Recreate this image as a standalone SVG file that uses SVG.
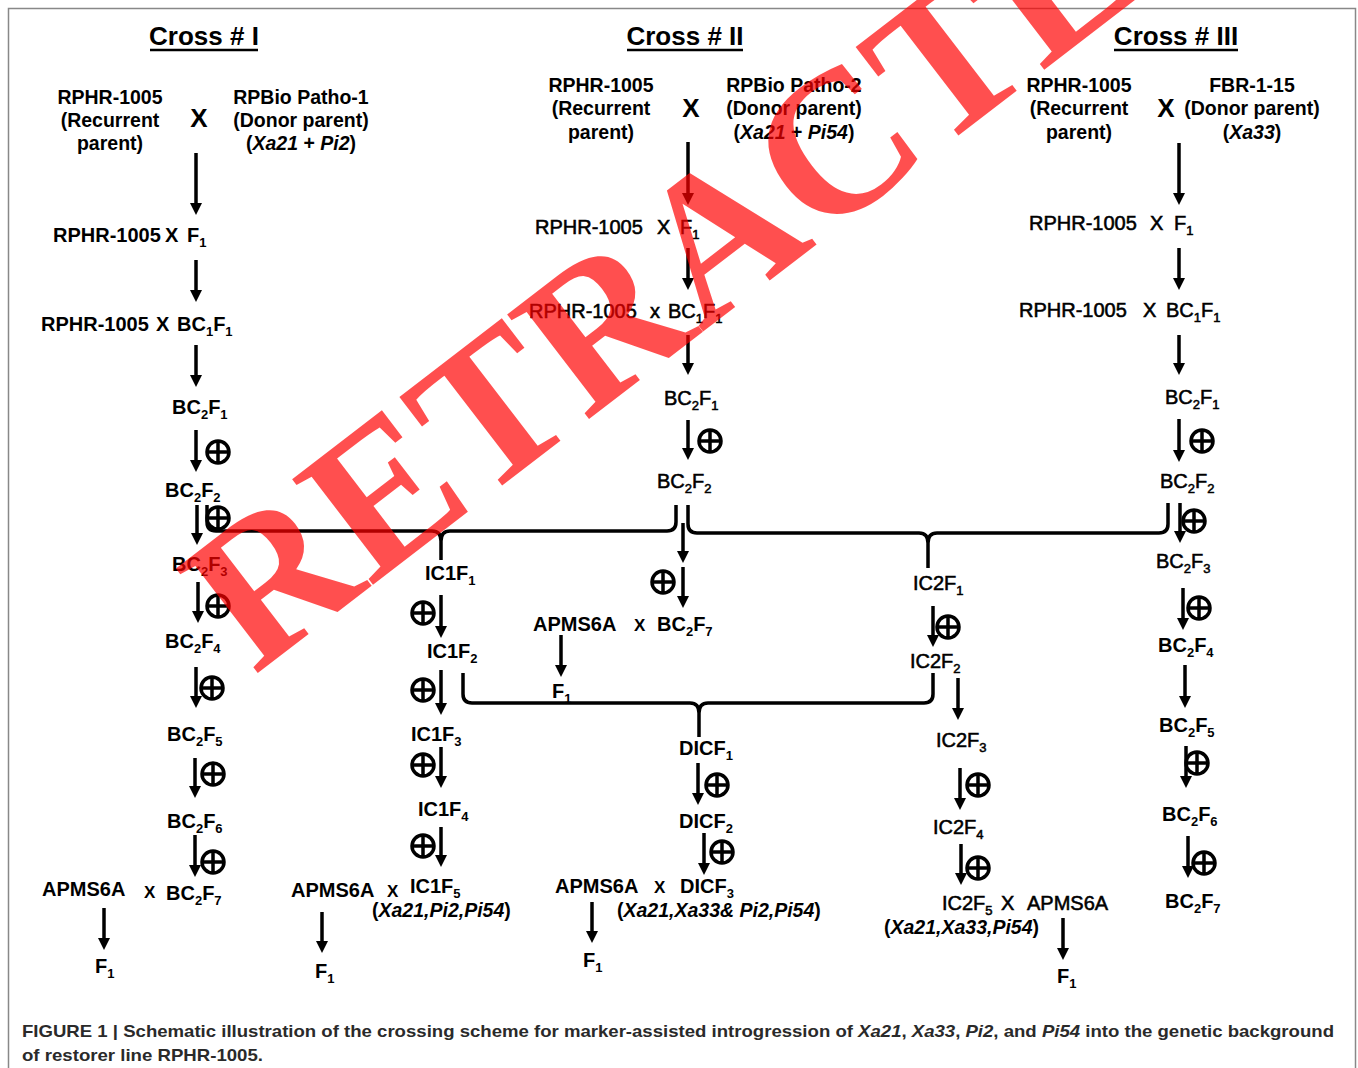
<svg xmlns="http://www.w3.org/2000/svg" xmlns:xlink="http://www.w3.org/1999/xlink" width="1358" height="1068" viewBox="0 0 1358 1068">
<style>
.t{font-family:"Liberation Sans",Arial,sans-serif;font-size:20px;font-weight:bold;fill:#000}
.p{font-size:19.5px}
.n{font-weight:normal;stroke:#000;stroke-width:0.55}
.sb{font-size:13px}
.it{font-style:italic}
.ttl{font-size:26px}
.sx{font-size:17px}
.arr{stroke:#000;stroke-width:3.5;fill:none;marker-end:url(#ah)}
.br{stroke:#000;stroke-width:3.5;fill:none;stroke-linejoin:round}
.ul{stroke:#000;stroke-width:2.5}
.cap{font-family:"Liberation Sans",Arial,sans-serif;font-size:17px;font-weight:bold;fill:#2a2a2a}
</style>
<defs>
<marker id="ah" markerUnits="userSpaceOnUse" markerWidth="14" markerHeight="14" viewBox="0 0 14 14" refX="2" refY="7" orient="auto"><path d="M0 1 L12 7 L0 13 Z" fill="#000"/></marker>
<g id="ox"><circle r="11" fill="none" stroke="#000" stroke-width="3.5"/><path d="M-11 0H11M0 -11V11" stroke="#000" stroke-width="3.5"/></g>
</defs>
<rect x="8.5" y="8.5" width="1347" height="1100" fill="#fff" stroke="#888" stroke-width="1.5"/>

<g id="titles">
<text class="t ttl" x="204" y="45" text-anchor="middle">Cross # I</text>
<line class="ul" x1="150" y1="50" x2="258" y2="50"/>
<text class="t ttl" x="685" y="45" text-anchor="middle">Cross # II</text>
<line class="ul" x1="627" y1="50" x2="743" y2="50"/>
<text class="t ttl" x="1176" y="45" text-anchor="middle">Cross # III</text>
<line class="ul" x1="1114" y1="50" x2="1238" y2="50"/>
</g>

<g id="parents1">
<text class="t p" text-anchor="middle"><tspan x="110" y="104">RPHR-1005</tspan><tspan x="110" y="127">(Recurrent</tspan><tspan x="110" y="150">parent)</tspan></text>
<text class="t ttl" x="199" y="127" text-anchor="middle">X</text>
<text class="t p" text-anchor="middle"><tspan x="301" y="104">RPBio Patho-1</tspan><tspan x="301" y="127">(Donor parent)</tspan><tspan x="301" y="150">(<tspan class="it">Xa21</tspan> + <tspan class="it">Pi2</tspan>)</tspan></text>
</g>
<g id="parents2">
<text class="t p" text-anchor="middle"><tspan x="601" y="92">RPHR-1005</tspan><tspan x="601" y="115">(Recurrent</tspan><tspan x="601" y="139">parent)</tspan></text>
<text class="t ttl" x="691" y="117" text-anchor="middle">X</text>
<text class="t p" text-anchor="middle"><tspan x="794" y="92">RPBio Patho-2</tspan><tspan x="794" y="115">(Donor parent)</tspan><tspan x="794" y="139">(<tspan class="it">Xa21</tspan> + <tspan class="it">Pi54</tspan>)</tspan></text>
</g>
<g id="parents3">
<text class="t p" text-anchor="middle"><tspan x="1079" y="92">RPHR-1005</tspan><tspan x="1079" y="115">(Recurrent</tspan><tspan x="1079" y="139">parent)</tspan></text>
<text class="t ttl" x="1166" y="117" text-anchor="middle">X</text>
<text class="t p" text-anchor="middle"><tspan x="1252" y="92">FBR-1-15</tspan><tspan x="1252" y="115">(Donor parent)</tspan><tspan x="1252" y="139">(<tspan class="it">Xa33</tspan>)</tspan></text>
</g>

<g id="connectors">
<path class="arr" d="M196 153V205"/>
<path class="arr" d="M196 260V292"/>
<path class="arr" d="M196 345V377"/>
<path class="arr" d="M196 430V462"/>
<path class="arr" d="M197 505V535"/>
<path class="arr" d="M198 582V613"/>
<path class="arr" d="M196 667V698"/>
<path class="arr" d="M195 758V788"/>
<path class="arr" d="M195 835V867"/>
<path class="arr" d="M104 908V940"/>
<path class="arr" d="M441 595V628"/>
<path class="arr" d="M441 670V705"/>
<path class="arr" d="M441 747V778"/>
<path class="arr" d="M441 827V857"/>
<path class="arr" d="M322 912V943"/>
<path class="arr" d="M688 142V195"/>
<path class="arr" d="M688 248V280"/>
<path class="arr" d="M688 335V365"/>
<path class="arr" d="M688 420V450"/>
<path class="arr" d="M683 523V553"/>
<path class="arr" d="M683 567V598"/>
<path class="arr" d="M561 635V667"/>
<path class="arr" d="M698 763V795"/>
<path class="arr" d="M704 833V865"/>
<path class="arr" d="M592 902V933"/>
<path class="arr" d="M933 606V637"/>
<path class="arr" d="M958 678V710"/>
<path class="arr" d="M960 768V800"/>
<path class="arr" d="M961 844V875"/>
<path class="arr" d="M1063 918V950"/>
<path class="arr" d="M1179 143V195"/>
<path class="arr" d="M1179 248V280"/>
<path class="arr" d="M1179 335V365"/>
<path class="arr" d="M1179 419V452"/>
<path class="arr" d="M1180 503V533"/>
<path class="arr" d="M1183 588V620"/>
<path class="arr" d="M1185 665V698"/>
<path class="arr" d="M1186 746V778"/>
<path class="arr" d="M1188 836V868"/>
<path class="br" d="M207 505V522Q207 531 216 531H432Q441 531 441 541V560M441 541Q441 531 450 531H667Q676 531 676 522V505"/>
<path class="br" d="M688 505V524Q688 533 697 533H919Q928 533 928 543V568M928 543Q928 533 937 533H1159Q1168 533 1168 524V503"/>
<path class="br" d="M463 673V694Q463 703 472 703H690Q699 703 699 713V737M699 713Q699 703 708 703H924Q933 703 933 694V673"/>
</g>

<g id="selfing">
<use xlink:href="#ox" x="218" y="452"/>
<use xlink:href="#ox" x="218" y="518"/>
<use xlink:href="#ox" x="218" y="606"/>
<use xlink:href="#ox" x="212" y="688"/>
<use xlink:href="#ox" x="213" y="774"/>
<use xlink:href="#ox" x="213" y="862"/>
<use xlink:href="#ox" x="423" y="613"/>
<use xlink:href="#ox" x="423" y="690"/>
<use xlink:href="#ox" x="423" y="765"/>
<use xlink:href="#ox" x="423" y="846"/>
<use xlink:href="#ox" x="710" y="441"/>
<use xlink:href="#ox" x="663" y="582"/>
<use xlink:href="#ox" x="717" y="785"/>
<use xlink:href="#ox" x="722" y="852"/>
<use xlink:href="#ox" x="948" y="627"/>
<use xlink:href="#ox" x="978" y="785"/>
<use xlink:href="#ox" x="978" y="868"/>
<use xlink:href="#ox" x="1202" y="441"/>
<use xlink:href="#ox" x="1194" y="521"/>
<use xlink:href="#ox" x="1199" y="608"/>
<use xlink:href="#ox" x="1197" y="763"/>
<use xlink:href="#ox" x="1204" y="863"/>
</g>

<g id="cross1-nodes">
<g id="c1-f1"><text class="t" x="53" y="242">RPHR-1005<tspan x="165">X</tspan><tspan x="187">F</tspan><tspan class="sb" dy="5">1</tspan></text></g>
<g id="c1-bc1f1"><text class="t" x="41" y="331">RPHR-1005<tspan x="156">X</tspan><tspan x="177">BC</tspan><tspan class="sb" dy="5">1</tspan><tspan dy="-5">F</tspan><tspan class="sb" dy="5">1</tspan></text></g>
<g id="c1-bc2f1"><text class="t" x="172" y="414">BC<tspan class="sb" dy="5">2</tspan><tspan dy="-5">F</tspan><tspan class="sb" dy="5">1</tspan></text></g>
<g id="c1-bc2f2"><text class="t" x="165" y="497">BC<tspan class="sb" dy="5">2</tspan><tspan dy="-5">F</tspan><tspan class="sb" dy="5">2</tspan></text></g>
<g id="c1-bc2f3"><text class="t" x="172" y="571">BC<tspan class="sb" dy="5">2</tspan><tspan dy="-5">F</tspan><tspan class="sb" dy="5">3</tspan></text></g>
<g id="c1-bc2f4"><text class="t" x="165" y="648">BC<tspan class="sb" dy="5">2</tspan><tspan dy="-5">F</tspan><tspan class="sb" dy="5">4</tspan></text></g>
<g id="c1-bc2f5"><text class="t" x="167" y="741">BC<tspan class="sb" dy="5">2</tspan><tspan dy="-5">F</tspan><tspan class="sb" dy="5">5</tspan></text></g>
<g id="c1-bc2f6"><text class="t" x="167" y="828">BC<tspan class="sb" dy="5">2</tspan><tspan dy="-5">F</tspan><tspan class="sb" dy="5">6</tspan></text></g>
<g id="c1-bc2f7"><text class="t" x="42" y="896">APMS6A<tspan class="sx" x="144" y="898">X</tspan><tspan x="166" y="900">BC</tspan><tspan class="sb" dy="5">2</tspan><tspan dy="-5">F</tspan><tspan class="sb" dy="5">7</tspan></text></g>
<g id="c1-f1-out"><text class="t" x="95" y="973">F<tspan class="sb" dy="5">1</tspan></text></g>
</g>

<g id="ic1-nodes">
<g id="ic1f1"><text class="t" x="425" y="580">IC1F<tspan class="sb" dy="5">1</tspan></text></g>
<g id="ic1f2"><text class="t" x="427" y="658">IC1F<tspan class="sb" dy="5">2</tspan></text></g>
<g id="ic1f3"><text class="t" x="411" y="741">IC1F<tspan class="sb" dy="5">3</tspan></text></g>
<g id="ic1f4"><text class="t" x="418" y="816">IC1F<tspan class="sb" dy="5">4</tspan></text></g>
<g id="ic1f5"><text class="t" x="291" y="897">APMS6A<tspan class="sx" x="387">X</tspan><tspan x="410" y="893">IC1F</tspan><tspan class="sb" dy="5">5</tspan></text>
<text class="t p" x="372" y="917">(<tspan class="it">Xa21,Pi2,Pi54</tspan>)</text></g>
<g id="ic1-f1-out"><text class="t" x="315" y="978">F<tspan class="sb" dy="5">1</tspan></text></g>
</g>

<g id="cross2-nodes">
<g id="c2-f1"><text class="t n" x="535" y="234">RPHR-1005<tspan x="657">X</tspan><tspan x="680">F</tspan><tspan class="sb" dy="5">1</tspan></text></g>
<g id="c2-bc1f1"><text class="t n" x="529" y="318">RPHR-1005<tspan x="650">x</tspan><tspan x="668">BC</tspan><tspan class="sb" dy="5">1</tspan><tspan dy="-5">F</tspan><tspan class="sb" dy="5">1</tspan></text></g>
<g id="c2-bc2f1"><text class="t n" x="664" y="405">BC<tspan class="sb" dy="5">2</tspan><tspan dy="-5">F</tspan><tspan class="sb" dy="5">1</tspan></text></g>
<g id="c2-bc2f2"><text class="t n" x="657" y="488">BC<tspan class="sb" dy="5">2</tspan><tspan dy="-5">F</tspan><tspan class="sb" dy="5">2</tspan></text></g>
<g id="c2-bc2f7"><text class="t" x="533" y="631">APMS6A<tspan class="sx" x="634">X</tspan><tspan x="657">BC</tspan><tspan class="sb" dy="5">2</tspan><tspan dy="-5">F</tspan><tspan class="sb" dy="5">7</tspan></text></g>
<g id="c2-f1-out"><text class="t" x="552" y="698">F<tspan class="sb" dy="5">1</tspan></text></g>
</g>

<g id="dic-nodes">
<g id="dicf1"><text class="t" x="679" y="755">DICF<tspan class="sb" dy="5">1</tspan></text></g>
<g id="dicf2"><text class="t" x="679" y="828">DICF<tspan class="sb" dy="5">2</tspan></text></g>
<g id="dicf3"><text class="t" x="555" y="893">APMS6A<tspan class="sx" x="654">X</tspan><tspan x="680">DICF</tspan><tspan class="sb" dy="5">3</tspan></text>
<text class="t p" x="617" y="917">(<tspan class="it">Xa21,Xa33&amp; Pi2,Pi54</tspan>)</text></g>
<g id="dic-f1-out"><text class="t" x="583" y="967">F<tspan class="sb" dy="5">1</tspan></text></g>
</g>

<g id="ic2-nodes">
<g id="ic2f1"><text class="t n" x="913" y="590">IC2F<tspan class="sb" dy="5">1</tspan></text></g>
<g id="ic2f2"><text class="t n" x="910" y="668">IC2F<tspan class="sb" dy="5">2</tspan></text></g>
<g id="ic2f3"><text class="t n" x="936" y="747">IC2F<tspan class="sb" dy="5">3</tspan></text></g>
<g id="ic2f4"><text class="t n" x="933" y="834">IC2F<tspan class="sb" dy="5">4</tspan></text></g>
<g id="ic2f5"><text class="t n" x="942" y="910">IC2F<tspan class="sb" dy="5">5</tspan><tspan x="1001" dy="-5">X</tspan><tspan x="1027">APMS6A</tspan></text>
<text class="t p" x="884" y="934">(<tspan class="it">Xa21,Xa33,Pi54</tspan>)</text></g>
<g id="ic2-f1-out"><text class="t" x="1057" y="983">F<tspan class="sb" dy="5">1</tspan></text></g>
</g>

<g id="cross3-nodes">
<g id="c3-f1"><text class="t n" x="1029" y="230">RPHR-1005<tspan x="1150">X</tspan><tspan x="1174">F</tspan><tspan class="sb" dy="5">1</tspan></text></g>
<g id="c3-bc1f1"><text class="t n" x="1019" y="317">RPHR-1005<tspan x="1143">X</tspan><tspan x="1166">BC</tspan><tspan class="sb" dy="5">1</tspan><tspan dy="-5">F</tspan><tspan class="sb" dy="5">1</tspan></text></g>
<g id="c3-bc2f1"><text class="t n" x="1165" y="404">BC<tspan class="sb" dy="5">2</tspan><tspan dy="-5">F</tspan><tspan class="sb" dy="5">1</tspan></text></g>
<g id="c3-bc2f2"><text class="t n" x="1160" y="488">BC<tspan class="sb" dy="5">2</tspan><tspan dy="-5">F</tspan><tspan class="sb" dy="5">2</tspan></text></g>
<g id="c3-bc2f3"><text class="t n" x="1156" y="568">BC<tspan class="sb" dy="5">2</tspan><tspan dy="-5">F</tspan><tspan class="sb" dy="5">3</tspan></text></g>
<g id="c3-bc2f4"><text class="t" x="1158" y="652">BC<tspan class="sb" dy="5">2</tspan><tspan dy="-5">F</tspan><tspan class="sb" dy="5">4</tspan></text></g>
<g id="c3-bc2f5"><text class="t" x="1159" y="732">BC<tspan class="sb" dy="5">2</tspan><tspan dy="-5">F</tspan><tspan class="sb" dy="5">5</tspan></text></g>
<g id="c3-bc2f6"><text class="t" x="1162" y="821">BC<tspan class="sb" dy="5">2</tspan><tspan dy="-5">F</tspan><tspan class="sb" dy="5">6</tspan></text></g>
<g id="c3-bc2f7"><text class="t" x="1165" y="908">BC<tspan class="sb" dy="5">2</tspan><tspan dy="-5">F</tspan><tspan class="sb" dy="5">7</tspan></text></g>
</g>

<g id="caption">
<text class="cap" x="22" y="1037" textLength="1312" lengthAdjust="spacingAndGlyphs">FIGURE 1 | Schematic illustration of the crossing scheme for marker-assisted introgression of <tspan font-style="italic">Xa21</tspan>, <tspan font-style="italic">Xa33</tspan>, <tspan font-style="italic">Pi2</tspan>, and <tspan font-style="italic">Pi54</tspan> into the genetic background</text>
<text class="cap" x="22" y="1061" textLength="241" lengthAdjust="spacingAndGlyphs">of restorer line RPHR-1005.</text>
</g>

<g id="watermark">
<text transform="translate(254 676) rotate(-37.5)" font-family="'Liberation Serif','Times New Roman',serif" font-weight="bold" font-size="203" fill="#ff0000" fill-opacity="0.69">RETRACTED</text>
</g>
</svg>
